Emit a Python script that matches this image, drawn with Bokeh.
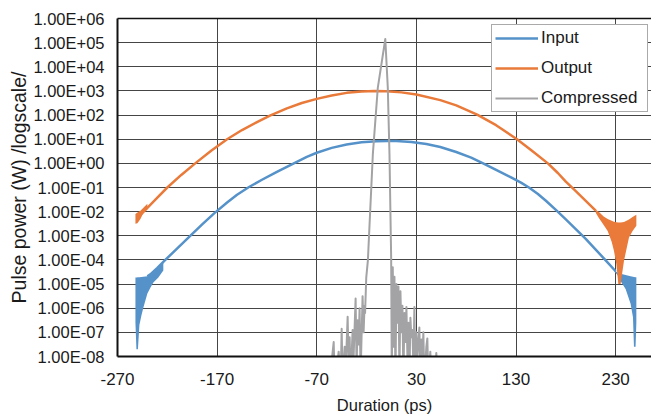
import numpy as np
from bokeh.plotting import figure
from bokeh.models import FixedTicker, LinearAxis, Legend, Range1d
from bokeh.embed import file_html
from bokeh.resources import INLINE

# ---------------- data ----------------
x_ticks = [-270, -170, -70, 30, 130, 230]
x_tick_labels = ["-270", "-170", "-70", "30", "130", "230"]
y_tick_exponents = [-8, -7, -6, -5, -4, -3, -2, -1, 0, 1, 2, 3, 4, 5, 6]
y_tick_labels = ["1.00E-08", "1.00E-07", "1.00E-06", "1.00E-05", "1.00E-04",
                 "1.00E-03", "1.00E-02", "1.00E-01", "1.00E+00", "1.00E+01",
                 "1.00E+02", "1.00E+03", "1.00E+04", "1.00E+05", "1.00E+06"]

# Input pulse (log10 of power in W)
input_x = [-240, -237, -230, -222, -210, -197, -185, -173, -160, -150, -138, -125, -110,
           -92, -80, -70, -55, -40, -25, -10, 0, 10, 25, 40, 54, 70, 85, 97, 110, 125,
           135, 143, 152, 160, 170, 180, 190, 200, 210, 220, 230]
input_log10 = [-4.68, -4.6, -4.33, -4.0, -3.52, -3.0, -2.53, -2.07, -1.62, -1.3, -0.98,
               -0.68, -0.35, 0.02, 0.27, 0.44, 0.64, 0.78, 0.87, 0.92, 0.93, 0.93, 0.88,
               0.80, 0.68, 0.47, 0.24, 0.0, -0.27, -0.58, -0.8, -1.0, -1.27, -1.55, -1.93,
               -2.32, -2.72, -3.13, -3.57, -4.02, -4.47]
# oscillating tails of the input pulse (envelope)
input_tail_left_x = [-252, -251, -249.5, -248, -246, -244, -240, -237, -234, -229, -224]
input_tail_left_hi = [-4.73, -4.73, -4.72, -4.72, -4.71, -4.70, -4.68, -4.62, -4.52, -4.33, -4.12]
input_tail_left_lo = [-6.6, -7.7, -7.7, -6.7, -6.3, -5.97, -5.39, -5.15, -4.94, -4.73, -4.44]
input_tail_right_x = [229, 232, 236, 240, 245, 247.4, 248.4, 250, 250.8]
input_tail_right_hi = [-4.43, -4.53, -4.58, -4.62, -4.68, -4.70, -4.71, -4.72, -4.72]
input_tail_right_lo = [-4.5, -4.62, -4.95, -5.2, -5.82, -6.37, -7.6, -7.6, -6.6]

# Output pulse
output_x = [-247, -240, -230, -220, -206, -192, -176, -160, -145, -130, -117, -100, -85,
            -70, -55, -40, -25, -12, 0, 15, 30, 54, 70, 91, 110, 131, 146, 162, 172, 180,
            190, 200, 210]
output_log10 = [-2.13, -1.84, -1.42, -1.0, -0.48, 0.0, 0.52, 1.0, 1.38, 1.71, 1.98, 2.28,
                2.5, 2.67, 2.81, 2.92, 2.98, 3.0, 2.99, 2.94, 2.85, 2.62, 2.4, 2.02, 1.58,
                1.0, 0.52, 0.0, -0.4, -0.76, -1.15, -1.55, -1.96]
output_tail_left_x = [-252, -250, -247, -244, -240]
output_tail_left_hi = [-2.1, -2.04, -1.96, -1.84, -1.67]
output_tail_left_lo = [-2.5, -2.48, -2.3, -2.06, -1.9]
output_tail_right_x = [210, 213, 218, 222, 226, 228.3, 230.7, 232.7, 235, 238.4, 243.4, 247, 250.8]
output_tail_right_hi = [-1.92, -2.0, -2.2, -2.3, -2.38, -2.42, -2.44, -2.45, -2.45, -2.43, -2.33, -2.22, -2.13]
output_tail_right_lo = [-2.05, -2.25, -2.55, -2.8, -3.25, -3.62, -4.17, -5.0, -5.0, -4.03, -3.07, -2.8, -2.58]

# Compressed pulse
compressed_x = [-57, -55, -53, -52, -50, -48, -46, -45, -44, -42, -41, -39, -38, -37, -36,
                -34, -33, -31, -30, -29, -28, -27, -26, -24, -23, -22, -21.5, -20.3, -18.7,
                -13.7, -8.7, -1.2, 1.3, 3.0, 4.7, 5.3, 6.3, 7.2, 8.0, 9.0, 10.0, 11.0, 12.0,
                13.0, 14.0, 15.0, 16.0, 17.0, 18.0, 19.0, 20.0, 21.0, 22.0, 23.0, 24.0, 25.0,
                26.0, 27.0, 28.0, 29.0, 30.0, 31.0, 33.0, 34.0, 35.0, 36.0, 37.0, 38.0, 40.0,
                41.0, 42.0, 44.0, 45.0, 47.0, 49.0, 50.0, 51.0]
compressed_log10 = [-9, -8.2, -7.4, -9, -8.5, -7.8, -9, -6.85, -9, -7.6, -8.6, -6.35, -8.3,
                    -7.2, -9, -6.9, -8.0, -5.6, -8.5, -6.5, -7.5, -6.0, -8.8, -5.5, -7.0,
                    -5.9, -6.2, -4.72, -4.03, 0.38, 3.14, 5.15, 3.14, 0.38, -3.96, -8.8,
                    -4.3, -7.6, -4.7, -9, -5.0, -6.6, -5.1, -8.8, -5.3, -7.0, -5.9, -9,
                    -6.2, -7.4, -5.95, -8.0, -6.6, -9, -6.4, -7.2, -6.9, -8.4, -5.95, -9,
                    -7.0, -8.0, -6.8, -9, -7.3, -8.2, -7.0, -9, -7.6, -7.25, -9, -7.8, -9,
                    -8.3, -9, -7.85, -9]

# ---------------- styling ----------------
BLUE = "#5592C9"
ORANGE = "#E97A3A"
GRAY = "#A3A3A6"
FONT = "Liberation Sans"
TXT = "#1a1a1a"
GRID = "#454545"


def pw(a):
    return 10.0 ** np.asarray(a, dtype=float)


p = figure(width=651, height=417, y_axis_type="log",
           x_range=Range1d(-270, 266), y_range=Range1d(1e-8, 1e6),
           output_backend="svg", toolbar_location=None,
           min_border_left=117, min_border_right=0, min_border_top=18, min_border_bottom=61)
p.outline_line_color = None
p.background_fill_color = "white"
p.border_fill_color = "white"

y_tick_values = [10.0 ** e for e in y_tick_exponents]

# grid
p.xgrid.ticker = FixedTicker(ticks=x_ticks)
p.ygrid.ticker = FixedTicker(ticks=y_tick_values)
for g in (p.xgrid[0], p.ygrid[0]):
    g.grid_line_color = GRID
    g.grid_line_width = 1
p.ygrid.minor_grid_line_color = None

# x axis (bottom)
xa = p.below[0]
xa.ticker = FixedTicker(ticks=x_ticks)
xa.major_label_overrides = {t: s for t, s in zip(x_ticks, x_tick_labels)}
xa.axis_label = "Duration (ps)"
xa.axis_label_text_font = FONT
xa.axis_label_text_font_size = "16.5px"
xa.axis_label_text_font_style = "normal"
xa.axis_label_text_color = TXT
xa.axis_label_standoff = 8
xa.major_label_text_font = FONT
xa.major_label_text_font_size = "17px"
xa.major_label_text_color = TXT
xa.major_label_standoff = 10
xa.major_tick_line_color = None
xa.minor_tick_line_color = None
xa.axis_line_color = "#111111"
xa.axis_line_width = 2

# y axis (left)
ya = p.left[0]
ya.ticker = FixedTicker(ticks=y_tick_values)
ya.major_label_overrides = {t: s for t, s in zip(y_tick_values, y_tick_labels)}
ya.axis_label = "Pulse power (W) /logscale/"
ya.axis_label_text_font = FONT
ya.axis_label_text_font_size = "19.5px"
ya.axis_label_text_font_style = "normal"
ya.axis_label_text_color = TXT
ya.axis_label_standoff = 0
ya.major_label_text_font = FONT
ya.major_label_text_font_size = "16.5px"
ya.major_label_text_color = TXT
ya.major_label_standoff = 7
ya.major_tick_line_color = None
ya.minor_tick_line_color = None
ya.axis_line_color = "#111111"
ya.axis_line_width = 2

# top border
top_axis = LinearAxis(ticker=FixedTicker(ticks=[]), major_label_text_font_size="0px",
                      major_tick_line_color=None, minor_tick_line_color=None,
                      axis_line_color="#111111", axis_line_width=1.5)
p.add_layout(top_axis, "above")

# ---------------- series ----------------
# Input
p.varea(x=input_tail_left_x, y1=pw(input_tail_left_lo), y2=pw(input_tail_left_hi), fill_color=BLUE)
p.varea(x=input_tail_right_x, y1=pw(input_tail_right_lo), y2=pw(input_tail_right_hi), fill_color=BLUE)
r_in = p.line(input_x, pw(input_log10), line_color=BLUE, line_width=2.5, line_join="round")

# Output
p.varea(x=output_tail_left_x, y1=pw(output_tail_left_lo), y2=pw(output_tail_left_hi), fill_color=ORANGE)
p.varea(x=output_tail_right_x, y1=pw(output_tail_right_lo), y2=pw(output_tail_right_hi), fill_color=ORANGE)
r_out = p.line(output_x, pw(output_log10), line_color=ORANGE, line_width=2.5, line_join="round")

# Compressed
r_cmp = p.line(compressed_x, pw(compressed_log10), line_color=GRAY, line_width=2, line_join="round")

legend = Legend(items=[("Input", [r_in]), ("Output", [r_out]), ("Compressed", [r_cmp])],
                location=(374, 244), orientation="vertical",
                label_text_font=FONT, label_text_font_size="17px", label_text_color=TXT,
                glyph_width=43, glyph_height=20, label_height=20, label_standoff=3,
                label_width=103, spacing=10, padding=3, margin=0,
                border_line_color="#555555", border_line_width=1,
                background_fill_color="white", background_fill_alpha=1.0)
p.add_layout(legend, "center")

open("out.html", "w").write(file_html(p, INLINE))
